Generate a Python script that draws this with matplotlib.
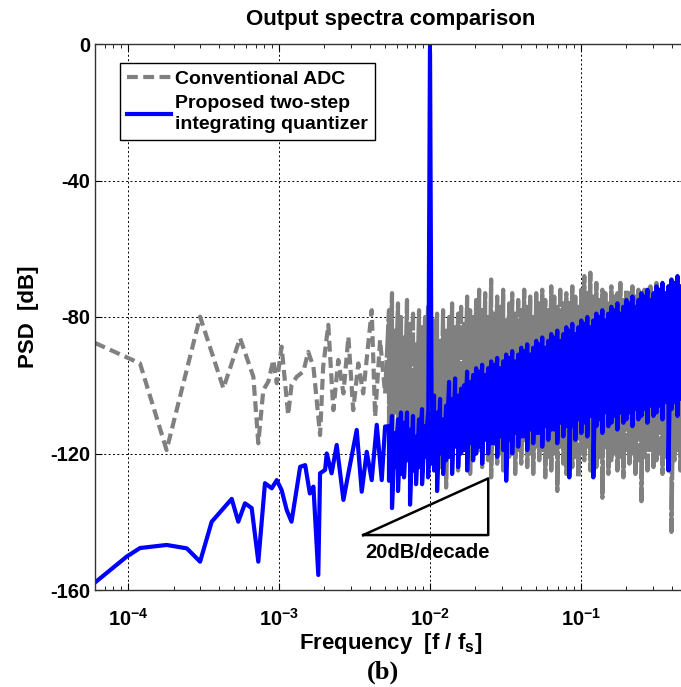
import numpy as np
import matplotlib
matplotlib.use("Agg")
import matplotlib.pyplot as plt

plt.rcParams['font.family'] = ['Liberation Sans', 'DejaVu Sans']
plt.rcParams['font.weight'] = 'bold'
plt.rcParams['axes.unicode_minus'] = False
plt.rcParams['path.simplify'] = False

# low-frequency part, read point by point
blue_lo_f = [6.04e-5, 9.8e-5, 1.2e-4, 1.8e-4, 2.45e-4, 3.0e-4, 3.58e-4, 4.86e-4, 5.37e-4,
             5.95e-4, 6.59e-4, 7.29e-4, 8.07e-4, 8.95e-4, 9.66e-4, 1.04e-3, 1.125e-3, 1.21e-3,
             1.38e-3, 1.49e-3, 1.60e-3, 1.69e-3, 1.82e-3, 1.87e-3, 2.02e-3, 2.07e-3, 2.23e-3,
             2.41e-3, 2.67e-3, 2.88e-3, 3.27e-3, 3.53e-3, 3.81e-3, 4.11e-3, 4.44e-3, 4.79e-3,
             5.04e-3]
blue_lo_db = [-157.8, -150.2, -147.7, -146.8, -147.8, -151.7, -140, -133.3, -140,
              -134.6, -136, -151.7, -128.7, -130.2, -127.8, -130.7, -136.6, -140,
              -123.9, -123.4, -131.7, -129.7, -155.6, -125.8, -124.8, -120, -125.8,
              -117.5, -133.6, -125.8, -113.1, -131.2, -119.5, -127.8, -111.6, -127.8,
              -112.1]

gray_lo_f = [6.04e-5, 1.2e-4, 1.8e-4, 3.0e-4, 4.28e-4, 5.52e-4, 6.76e-4, 7.29e-4, 7.87e-4,
             8.50e-4, 9.17e-4, 9.66e-4, 1.04e-3, 1.15e-3, 1.21e-3, 1.31e-3, 1.45e-3, 1.56e-3,
             1.69e-3, 1.87e-3, 1.96e-3, 2.12e-3, 2.29e-3, 2.47e-3, 2.67e-3, 2.88e-3, 3.10e-3,
             3.35e-3, 3.61e-3, 4.11e-3, 4.33e-3, 4.67e-3, 5.04e-3]
gray_lo_db = [-87.6, -93.6, -119, -79.9, -100.9, -86.2, -97.5, -117, -101.4,
              -98.9, -92.6, -99.4, -88.7, -108.7, -99.9, -97.5, -96, -90.2,
              -94.6, -114.6, -94.6, -82.3, -107.3, -92.6, -102.4, -85.8, -107.3,
              -93.6, -102.4, -78, -109.2, -86.7, -102.4]

gray_hi_db = [
    -78, -112, -73, -118, -84, -108, -76, -121, -80, -115,
    -86, -117, -75, -110, -82, -123, -79, -114, -88, -119,
    -78, -116, -83, -126, -80, -112, -77, -120, -85, -117,
    -81, -119, -79, -113, -87, -124, -78, -116, -84, -130,
    -80, -118, -76, -122, -83, -114, -79, -125, -77, -119,
    -82, -116, -74, -121, -78, -126, -80, -117, -75, -120,
    -72, -119, -78, -124, -73, -115, -80, -122, -69, -127,
    -79, -118, -74, -123, -77, -120, -72, -125, -81, -116,
    -76, -121, -73, -118, -79, -126, -75, -119, -78, -123,
    -72, -117, -77, -124, -74, -120, -80, -126, -73, -118,
    -76, -122, -72, -119, -75, -127, -78, -121, -71, -125,
    -74, -120, -77, -131, -72, -118, -76, -123, -73, -126,
    -75, -119, -71, -124, -74, -121, -77, -127, -72, -120,
    -68, -122, -73, -118, -67, -125, -74, -120, -70, -124,
    -75, -121, -72, -133, -73, -119, -76, -126, -71, -122,
    -74, -120, -73, -125, -70, -121, -75, -127, -72, -119,
    -73, -123, -71, -120, -74, -126, -72, -122, -75, -134,
    -72, -121, -74, -125, -71, -119, -73, -124, -70, -122,
    -74, -120, -72, -126, -75, -121, -71, -123, -73, -143,
    -72, -122, -74, -119, -71, -125, -73, -121, -72, -124]

blue_hi_db = [
    -112, -128, -109, -136, -114, -124, -110, -131, -108, -126,
    -111, -127, -108, -122, -113, -135, -109, -125, -115, -129,
    -110, -124, -107, -129, -112, -121, -108, -127, -111, -123,
    -103, -125, -108, -131, -104, -120, -110, -126, -106, -122,
    -99, -121, -104, -126, -98, -118, -103, -124, -101, -120,
    -100, -119, -96, -125, -99, -117, -97, -122, -95, -120,
    -96, -118, -94, -123, -97, -116, -95, -120, -93, -117,
    -94, -117, -92, -121, -95, -115, -93, -119, -91, -128,
    -92, -116, -90, -120, -93, -114, -91, -118, -89, -115,
    -90, -115, -88, -119, -91, -113, -89, -117, -87, -114,
    -88, -114, -86, -118, -89, -112, -87, -116, -85, -113,
    -86, -113, -84, -117, -87, -111, -85, -115, -83, -112,
    -84, -127, -82, -112, -85, -116, -83, -110, -81, -114,
    -82, -111, -80, -115, -83, -109, -81, -127, -79, -112,
    -80, -110, -78, -114, -81, -108, -79, -112, -77, -111,
    -78, -109, -76, -113, -79, -108, -77, -111, -75, -110,
    -76, -108, -74, -112, -77, -107, -75, -110, -73, -109,
    -74, -107, -72, -111, -75, -106, -73, -109, -71, -108,
    -72, -106, -70, -110, -73, -105, -71, -125, -69, -107,
    -70, -105, -68, -109, -71, -104, -69, -108, -70, -106]

# signal tone at f/fs = 0.01
tone_f = [0.0097, 0.00995, 0.01, 0.01005, 0.0103]
tone_db = [-110, -2, 0, -3, -112]

# each peak/trough pair sits on one frequency bin
f_hi = np.repeat(np.geomspace(5.35e-3, 0.5, len(blue_hi_db) // 2), 2)

blue_f = np.concatenate([blue_lo_f, f_hi])
blue_db = np.concatenate([blue_lo_db, blue_hi_db])

fig = plt.figure(figsize=(6.81, 6.87), dpi=100)
ax = fig.add_axes([95/681, 97/687, 591.5/681, 546/687])

gray = '#808080'
ax.semilogx(gray_lo_f, gray_lo_db, color=gray, lw=3, linestyle=(0, (2.6, 1.3)),
            label='Conventional ADC')
# dense stretch: the dashes mostly overlap into a solid band
ax.semilogx(np.concatenate([gray_lo_f[-1:], f_hi]), np.concatenate([gray_lo_db[-1:], gray_hi_db]),
            color=gray, lw=3, linestyle=(0, (8, 0.6)))
ax.semilogx(blue_f, blue_db, color='#0000ff', lw=3,
            label='Proposed two-step\nintegrating quantizer')
ax.semilogx(tone_f, tone_db, color='#0000ff', lw=2.6)

# 20 dB/decade slope triangle
ax.plot([3.61e-3, 0.0243, 0.0243, 3.61e-3], [-143.9, -143.9, -127.3, -143.9],
        color='black', lw=1.8)
ax.text(0.0096, -146.3, '20dB/decade', ha='center', va='top', fontsize=14.5, fontweight='bold')

ax.set_xlim(6.04e-5, 0.5)
ax.set_ylim(-160, 0)
ax.set_yticks([0, -40, -80, -120, -160])
ax.set_xticks([1e-4, 1e-3, 1e-2, 1e-1])
ax.grid(True, which='major', color='black', linestyle=(0, (2, 2.5)), lw=0.7)
ax.tick_params(which='both', direction='in', top=True, right=True, labelsize=14.5)
ax.tick_params(which='major', length=5)
ax.tick_params(which='minor', length=3)
ax.tick_params(axis='x', pad=13)
for s in ax.spines.values():
    s.set_linewidth(1.0)
    s.set_color('#333333')

ax.set_title('Output spectra comparison', fontsize=16, fontweight='bold', pad=14)
ax.set_ylabel('PSD  [dB]', fontsize=16, fontweight='bold', labelpad=8)
ax.set_xlabel(r'Frequency  [f / f$_\mathdefault{s}$]', fontsize=16, fontweight='bold', labelpad=1)

leg = ax.legend(loc='upper left', bbox_to_anchor=(0.042, 0.965), borderaxespad=0,
                fancybox=False, framealpha=1, edgecolor='black', fontsize=14,
                handlelength=2.3, handletextpad=0.2, borderpad=0.35, labelspacing=0.4)
leg.get_frame().set_linewidth(1.0)
for t in leg.get_texts():
    t.set_linespacing(1.3)

fig.text(383/681, 1 - 672/687, '(b)', ha='center', va='center', fontsize=19,
         fontweight='bold', family='Liberation Serif')

fig.savefig('out.png', dpi=100)
